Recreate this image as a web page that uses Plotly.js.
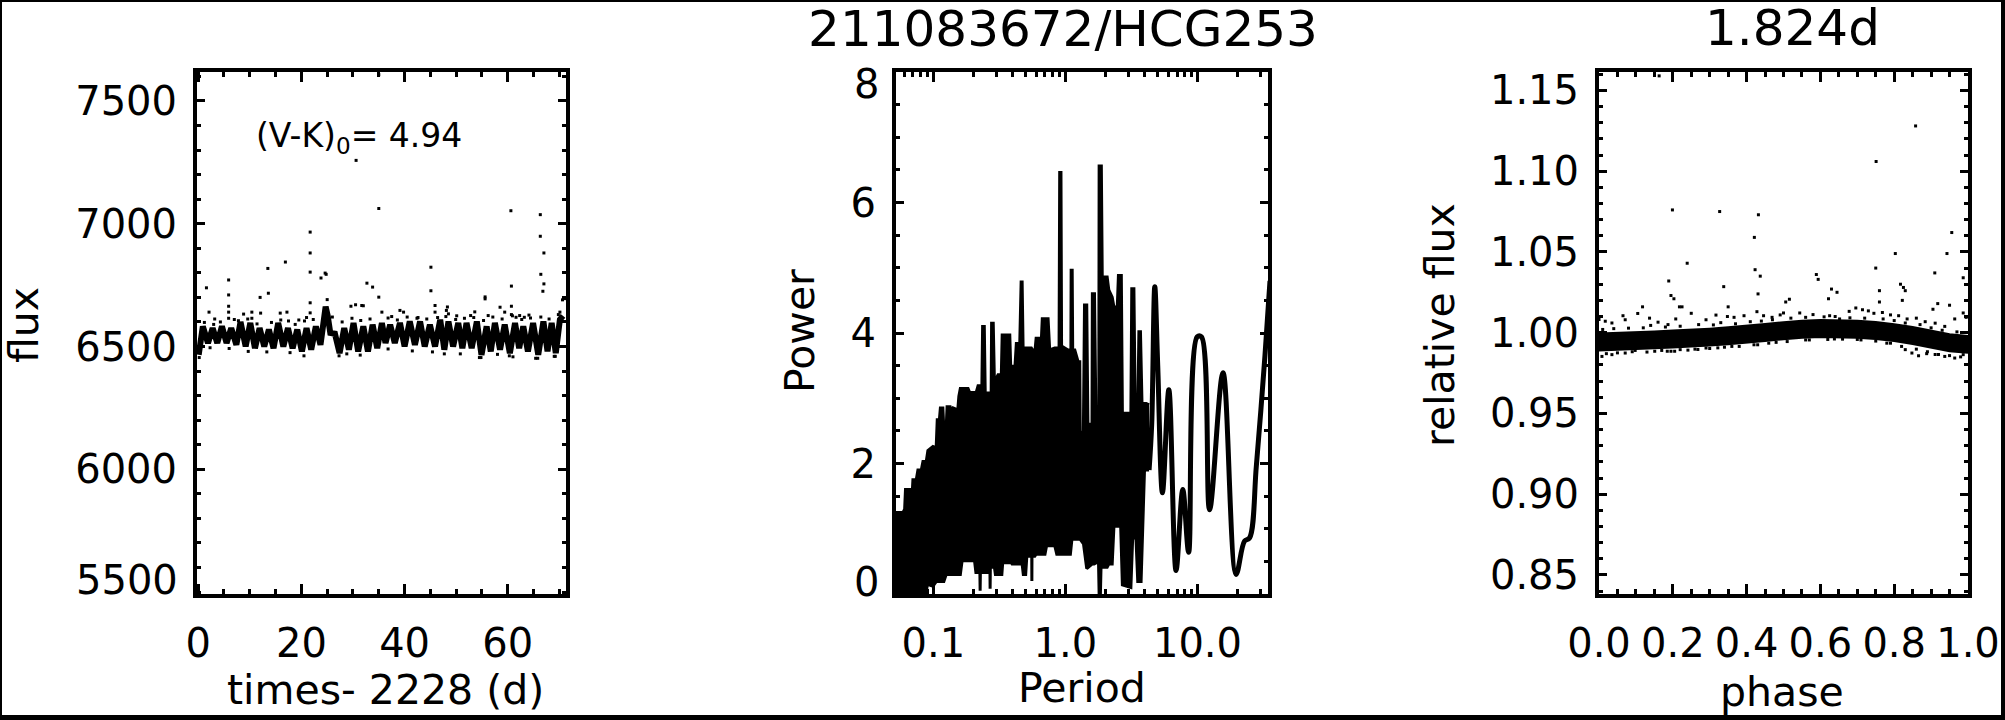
<!DOCTYPE html>
<html><head><meta charset="utf-8">
<script src="https://cdn.plot.ly/plotly-3.0.1.min.js"></script>
<style>
html,body{margin:0;padding:0;background:#fff;}
#wrap{position:relative;width:2005px;height:720px;overflow:hidden;background:#fff;}
#chart{position:absolute;left:0;top:0;width:2005px;height:720px;}
#frame{position:absolute;left:0;top:0;width:2005px;height:720px;box-sizing:border-box;border-top:2px solid #000;border-left:2px solid #000;border-right:4px solid #000;border-bottom:5px solid #000;pointer-events:none;}
</style></head><body>
<div id="wrap"><div id="chart"></div><div id="frame"></div></div>
<script>
// ---------- Panel 1: light curve (flux vs time-2228) ----------
const lcTime = [0.1,0.5,0.9,1.9,2.8,3.7,4.6,5.5,6.4,7.4,8.2,9.2,10.1,11.0,11.9,12.8,13.7,14.6,15.5,16.5,17.4,18.3,19.2,20.1,21.0,21.9,22.8,23.7,24.3,24.7,25.1,25.6,26.5,27.4,28.3,29.2,30.1,31.0,32.0,32.9,33.8,34.7,35.6,36.3,37.2,38.1,39.1,40.0,41.0,42.0,43.0,43.9,44.9,45.9,46.9,47.7,48.5,49.4,50.4,51.2,52.0,53.0,54.0,54.9,55.9,56.7,57.5,58.5,59.4,60.4,61.4,62.2,63.0,63.9,64.9,65.9,66.9,67.7,68.5,69.3,70.1,70.7];
const lcFlux = [6466,6520,6582,6514,6575,6514,6582,6514,6575,6507,6600,6500,6596,6493,6575,6500,6569,6493,6596,6500,6575,6493,6569,6480,6575,6487,6582,6507,6600,6662,6625,6555,6552,6473,6575,6487,6596,6480,6582,6480,6589,6493,6596,6514,6589,6514,6596,6500,6602,6507,6602,6500,6589,6500,6609,6487,6602,6500,6596,6493,6596,6493,6602,6466,6582,6480,6596,6487,6589,6473,6596,6493,6582,6480,6596,6466,6602,6480,6596,6473,6610,6625];
const lcOutTime = [35.0,30.6,35.0,60.6,66.3,66.3,21.7,21.7,67.0,16.9,13.5,45.1,21.7,24.8,23.8,24.6,5.9,66.4,1.6,32.7,33.8,60.7,67.0,66.8,13.6,45.1,35.0,5.9,12.0,55.6,55.6,21.7,30.5,29.6,32.0,31.7,25.0,70.6,71.0,45.9,60.7,48.3,5.9,5.9,5.9,2.1,10.4,10.4,8.8,12.1,15.9,17.2,17.5,21.0,21.7,39.1,39.8,45.9,48.1,48.5,53.6,52.8,56.2,58.5,59.4,60.7,61.6,62.3,63.2,70.1,35.6,54.8,65.8,69.2,60.3,47.7,27.3,0.2,3.2,7.0,19.5,26.0,37.5,42.6,50.1,64.1,
  1.2,3.0,4.3,7.8,9.6,11.4,14.2,16.0,18.8,20.6,22.3,27.9,29.8,31.5,33.3,36.8,38.6,40.5,42.4,44.3,46.4,48.0,49.9,51.6,53.4,55.3,57.1,58.9,60.9,62.7,64.4,66.4,68.0,69.8,
  2.3,6.0,9.7,13.3,17.8,20.5,28.8,31.4,36.8,41.5,45.4,50.8,54.5,58.0,61.0,65.4,69.0];
const lcOutFlux = [7607,7258,7062,7053,7037,6949,6966,6881,6881,6844,6818,6823,6803,6794,6779,6799,6771,6794,6739,6758,6742,6746,6755,6725,6717,6727,6701,6710,6700,6702,6694,6678,6670,6664,6666,6667,6691,6690,6695,6667,6664,6661,6664,6640,6615,6640,6640,6615,6632,6636,6636,6640,6604,6618,6637,6647,6640,6640,6647,6633,6641,6626,6626,6660,6640,6630,6619,6626,6619,6640,6640,6455,6452,6460,6462,6470,6462,6455,6612,6610,6608,6620,6622,6618,6625,6628,
  6598,6590,6600,6605,6612,6592,6598,6608,6590,6604,6610,6600,6615,6606,6612,6616,6608,6620,6615,6612,6618,6622,6610,6615,6618,6606,6620,6612,6625,6610,6616,6620,6612,6630,
  6495,6492,6480,6478,6475,6462,6470,6465,6490,6482,6478,6470,6455,6468,6458,6452,6460];

// ---------- Panel 2: periodogram (Power vs Period) ----------
const pgUpPeriod = [0.0503,0.0523,0.0589,0.0606,0.0615,0.0661,0.0670,0.0690,0.0700,0.0742,0.0764,0.0810,0.0834,0.0883,0.0909,0.0993,0.1050,0.1070,0.1110,0.1130,0.1180,0.1200,0.1250,0.1270,0.1340,0.1370,0.1410,0.1530,0.1560,0.1600,0.1830,0.1880,0.2110,0.2180,0.2330,0.2360,0.2430,0.2470,0.2740,0.2760,0.2840,0.2900,0.3090,0.3270,0.3320,0.3790,0.3850,0.4150,0.4250,0.4510,0.4620,0.4700,0.4780,0.5520,0.5860,0.6000,0.6580,0.6680,0.7390,0.7600,0.8300,0.8950,0.9050,0.9250,0.9350,1.047,1.100,1.105,1.125,1.135,1.177,1.247,1.284,1.295,1.368,1.395,1.450,1.480,1.590,1.600,1.660,1.700,1.790,1.800,1.870,1.900,2.070,2.130,2.260,2.330,2.470,2.520,2.650,2.700,3.130,3.180,3.300,3.380,3.530,3.600,3.700,3.800,4.090,4.300];
const pgUpPower = [1.20,1.25,1.25,1.30,1.60,1.60,1.50,1.50,1.75,1.75,1.90,1.90,2.03,2.03,2.20,2.26,2.24,2.67,2.67,2.85,2.85,2.54,2.54,2.87,2.87,2.80,2.85,2.82,3.03,3.15,3.15,3.09,3.09,3.19,3.19,4.10,4.10,3.08,3.08,4.15,4.15,3.25,3.36,3.36,3.97,3.97,3.49,3.49,3.84,3.84,4.78,4.78,3.77,3.77,3.69,3.92,3.92,4.22,4.22,3.74,3.77,3.77,6.46,6.46,3.80,3.74,3.74,4.96,4.96,3.74,3.74,3.56,3.56,2.41,2.50,4.43,4.43,2.60,2.60,4.60,4.60,2.80,2.80,6.56,6.56,4.86,4.86,4.66,4.55,4.40,4.40,4.88,4.88,2.77,2.77,4.68,4.68,2.75,2.75,4.02,4.02,2.92,2.92,2.90];
const pgLowPeriod = [0.0503,0.0810,0.0820,0.0834,0.0850,0.0870,0.0880,0.0900,0.0993,0.1050,0.1200,0.1250,0.1600,0.1650,0.2050,0.2100,0.2250,0.2260,0.2270,0.2550,0.2600,0.2680,0.2690,0.2700,0.2900,0.2950,0.3300,0.3350,0.3900,0.3950,0.4700,0.4800,0.5000,0.5100,0.5560,0.5570,0.5580,0.5860,0.6000,0.7000,0.7200,0.8300,0.8600,1.0900,1.1200,1.2900,1.3700,1.4500,1.5900,1.6500,1.7800,1.8000,1.8400,1.8600,2.0700,2.1300,2.2600,2.3300,2.6200,2.7000,3.1300,3.2300,3.4200,3.5300,3.7400,3.9700,4.3000];
const pgLowPower = [0.00,0.00,0.15,0.00,0.15,0.15,0.00,0.15,0.12,0.19,0.19,0.30,0.30,0.51,0.51,0.33,0.33,0.05,0.33,0.33,0.41,0.41,0.08,0.41,0.41,0.30,0.30,0.48,0.48,0.46,0.46,0.30,0.30,0.58,0.58,0.20,0.58,0.58,0.61,0.61,0.74,0.74,0.61,0.61,0.84,0.84,0.77,0.39,0.46,0.46,0.50,0.00,0.00,0.41,0.41,0.46,0.46,1.04,1.04,0.14,0.10,0.86,0.86,0.19,0.19,1.90,1.90];
const pgSmoothPeriod = [4.30,4.50,4.75,5.00,5.43,6.07,6.88,7.74,8.57,9.94,10.72,12.35,15.60,19.60,22.70,24.80,27.90,32.40,35.40];
const pgSmoothPower = [1.90,2.60,4.71,3.50,1.55,3.13,0.36,1.60,0.64,3.94,3.94,1.29,3.39,0.30,0.81,0.86,1.96,3.64,4.80];
const pgTickVals = [0.1,1,10];
const pgTickText = ['0.1','1.0','10.0'];
const pgMinorVals = [0.06,0.07,0.08,0.09,0.2,0.3,0.4,0.5,0.6,0.7,0.8,0.9,2,3,4,5,6,7,8,9,20,30];

// ---------- Panel 3: phased light curve (relative flux vs phase) ----------
const phGrid = [0.00,0.05,0.10,0.15,0.20,0.25,0.30,0.35,0.40,0.45,0.50,0.55,0.60,0.65,0.70,0.75,0.80,0.85,0.90,0.95,1.00];
const phBandTop = [0.9995,0.9998,1.0003,1.0008,1.0013,1.0018,1.0025,1.0033,1.0042,1.0053,1.0065,1.0074,1.0078,1.0078,1.0074,1.0066,1.0053,1.0035,1.0012,0.9990,0.9980];
const phBandBot = [0.9890,0.9893,0.9898,0.9903,0.9908,0.9913,0.9920,0.9928,0.9937,0.9948,0.9960,0.9969,0.9973,0.9973,0.9969,0.9961,0.9948,0.9930,0.9907,0.9885,0.9875];
const phOutPhase = [0.163,0.858,0.751,0.199,0.327,0.432,0.421,0.956,0.943,0.803,0.239,0.189,0.423,0.437,0.750,0.589,0.594,0.987,0.338,0.910,0.817,0.431,0.630,0.645,0.760,0.195,0.203,0.825,0.830,0.822,0.118,0.350,0.506,0.516,0.760,0.622,0.905,0.918,0.950,0.218,0.225,
  0.000,0.017,0.035,0.065,0.071,0.105,0.137,0.160,0.187,0.208,0.250,0.290,0.317,0.348,0.366,0.393,0.428,0.446,0.469,0.491,0.500,0.544,0.580,0.625,0.652,0.678,0.696,0.714,0.730,0.745,0.768,0.790,0.812,0.835,0.860,0.884,0.911,0.937,0.964,0.987,0.995,
  0.008,0.035,0.071,0.098,0.151,0.185,0.195,0.205,0.241,0.268,0.300,0.322,0.360,0.420,0.480,0.560,0.638,0.700,0.780,0.830,0.848,0.866,0.888,0.911,0.937,0.964,0.987,
  0.01,0.04,0.08,0.12,0.14,0.18,0.22,0.27,0.31,0.33,0.37,0.41,0.44,0.47,0.52,0.56,0.61,0.64,0.68,0.72,0.77,0.80,0.83,0.87,0.90,0.93,0.97,
  0.02,0.05,0.09,0.13,0.17,0.22,0.26,0.29,0.34,0.38,0.43,0.46,0.51,0.57,0.62,0.66,0.71,0.75,0.79,0.82,0.86,0.89,0.92,0.95,0.98];
const phOutFlux = [1.159,1.128,1.106,1.076,1.075,1.073,1.059,1.062,1.049,1.049,1.043,1.032,1.039,1.035,1.040,1.036,1.033,1.034,1.0285,1.037,1.030,1.024,1.027,1.025,1.026,1.023,1.021,1.028,1.026,1.020,1.016,1.016,1.019,1.0207,1.019,1.021,1.0145,1.018,1.017,1.016,1.016,
  1.0081,1.0071,1.0060,1.0105,1.0080,1.0119,1.0090,1.0065,1.0050,1.0085,1.0120,1.0080,1.0109,1.0100,1.0095,1.0105,1.0130,1.0105,1.0095,1.0110,1.0122,1.0122,1.0112,1.0105,1.0085,1.0132,1.0153,1.0142,1.0135,1.0120,1.0125,1.0110,1.0105,1.0085,1.0090,1.0068,1.0059,1.0039,1.0085,1.0122,1.0095,
  0.9853,0.9864,0.9874,0.9890,0.9885,0.9885,0.9885,0.9885,0.9892,0.9896,0.9902,0.9906,0.9915,0.9925,0.9940,0.9955,0.9961,0.9958,0.9935,0.9895,0.9874,0.9857,0.9870,0.9865,0.9853,0.9843,0.9864,
  1.0020,1.0025,1.0028,1.0030,1.0045,1.0035,1.0040,1.0050,1.0048,1.0062,1.0055,1.0068,1.0072,1.0080,1.0090,1.0095,1.0098,1.0100,1.0092,1.0090,1.0085,1.0075,1.0060,1.0050,1.0030,1.0015,1.0005,
  0.9870,0.9875,0.9882,0.9880,0.9890,0.9895,0.9898,0.9905,0.9910,0.9915,0.9925,0.9935,0.9945,0.9955,0.9958,0.9960,0.9955,0.9948,0.9935,0.9915,0.9898,0.9882,0.9865,0.9858,0.9850];

// ---------- Text ----------
const mainTitle = '211083672/HCG253';
const periodTitle = '1.824d';
const colourLabel = '(V-K)<sub>0</sub>= 4.94';
const lcYTickVals = [6000,6500,7000,7500];
const pgYTickVals = [2,4,6];

const FONT = 'DejaVu Sans, Verdana, sans-serif';
const W = 2005, H = 720;
const px = v => v / W;
const py = v => 1 - v / H;

function axis(extra, isX) {
  return Object.assign({
    showline: true, linewidth: 4, linecolor: '#000', mirror: 'allticks',
    ticks: 'inside', ticklen: isX ? 10 : 8, tickwidth: 3, tickcolor: '#000',
    showgrid: false, zeroline: false, fixedrange: true,
    tickfont: {family: FONT, size: 40, color: '#000'},
    ticklabelstandoff: isX ? 11 : 8
  }, extra);
}
function minor(extra, isX) {
  return Object.assign({ticks: 'inside', ticklen: isX ? 5 : 4, tickwidth: 3, tickcolor: '#000', showgrid: false}, extra);
}
function label(text, xPix, yPix, opts) {
  return Object.assign({text: text, xref: 'paper', yref: 'paper', x: px(xPix), y: py(yPix), xanchor: 'center', yanchor: 'middle', showarrow: false, font: {family: FONT, size: 41, color: '#000'}}, opts || {});
}

const data = [
  {x: lcTime, y: lcFlux, xaxis: 'x', yaxis: 'y', mode: 'lines', line: {color: '#000', width: 6}, hoverinfo: 'skip'},
  {x: lcOutTime, y: lcOutFlux, xaxis: 'x', yaxis: 'y', mode: 'markers', marker: {color: '#000', size: 3, symbol: 'square'}, hoverinfo: 'skip'},

  {x: pgLowPeriod, y: pgLowPower, xaxis: 'x2', yaxis: 'y2', mode: 'lines', line: {color: '#000', width: 3}, hoverinfo: 'skip'},
  {x: pgUpPeriod, y: pgUpPower, xaxis: 'x2', yaxis: 'y2', mode: 'lines', fill: 'tonexty', fillcolor: '#000', line: {color: '#000', width: 3}, hoverinfo: 'skip'},
  {x: pgSmoothPeriod, y: pgSmoothPower, xaxis: 'x2', yaxis: 'y2', mode: 'lines', line: {color: '#000', width: 5, shape: 'spline', smoothing: 1}, hoverinfo: 'skip'},

  {x: phGrid, y: phBandBot, xaxis: 'x3', yaxis: 'y3', mode: 'lines', line: {color: '#000', width: 2}, hoverinfo: 'skip'},
  {x: phGrid, y: phBandTop, xaxis: 'x3', yaxis: 'y3', mode: 'lines', fill: 'tonexty', fillcolor: '#000', line: {color: '#000', width: 2}, hoverinfo: 'skip'},
  {x: phOutPhase, y: phOutFlux, xaxis: 'x3', yaxis: 'y3', mode: 'markers', marker: {color: '#000', size: 3, symbol: 'square'}, hoverinfo: 'skip'}
];

const yDom = [0.175, 0.9];
const layout = {
  width: W, height: H, showlegend: false,
  margin: {l: 0, r: 0, t: 0, b: 0},
  paper_bgcolor: '#fff', plot_bgcolor: '#fff',
  font: {family: FONT, color: '#000'},
  title: {text: mainTitle, font: {family: FONT, size: 50, color: '#000'}, xref: 'paper', yref: 'paper', x: px(1063), xanchor: 'center', y: py(28), yanchor: 'middle'},
  xaxis: axis({domain: [px(197), px(566)], anchor: 'y', range: [-0.23, 71.28], tick0: 0, dtick: 20, minor: minor({dtick: 5}, true)}, true),
  yaxis: axis({domain: yDom, anchor: 'x', range: [5492, 7618], tickmode: 'array', tickvals: lcYTickVals, minor: minor({tick0: 5500, dtick: 100}, false)}, false),
  xaxis2: axis({domain: [px(896), px(1268)], anchor: 'y2', type: 'log', range: [-1.283, 1.534], tickmode: 'array', tickvals: pgTickVals, ticktext: pgTickText, minor: minor({tickmode: 'array', tickvals: pgMinorVals}, true)}, true),
  yaxis2: axis({domain: yDom, anchor: 'x2', range: [0, 8], tickmode: 'array', tickvals: pgYTickVals, minor: minor({tick0: 0, dtick: 0.5}, false)}, false),
  xaxis3: axis({domain: [px(1599), px(1968)], anchor: 'y3', range: [0, 1], tick0: 0, dtick: 0.2, tickformat: '.1f', minor: minor({dtick: 0.05}, true)}, true),
  yaxis3: axis({domain: yDom, anchor: 'x3', range: [0.8382, 1.1614], tick0: 0.85, dtick: 0.05, tickformat: '.2f', minor: minor({dtick: 0.01}, false)}, false),
  annotations: [
    label(periodTitle, 1792, 28, {font: {family: FONT, size: 50, color: '#000'}}),
    label(colourLabel, 254, 137, {xanchor: 'left', font: {family: FONT, size: 33, color: '#000'}}),
    // end-of-axis tick labels, kept inside the axis span as in the original
    label('5500', 180, 580, {xanchor: 'right', font: {family: FONT, size: 40, color: '#000'}}),
    label('0', 881, 582, {xanchor: 'right', font: {family: FONT, size: 40, color: '#000'}}),
    label('8', 881, 84, {xanchor: 'right', font: {family: FONT, size: 40, color: '#000'}}),
    // axis titles
    label('flux', 24, 325, {textangle: -90}),
    label('Power', 800, 331, {textangle: -90}),
    label('relative flux', 1440, 325, {textangle: -90}),
    label('times- 2228 (d)', 385, 690),
    label('Period', 1082, 688),
    label('phase', 1782, 692)
  ]
};

Plotly.newPlot('chart', data, layout, {displayModeBar: false, staticPlot: true});
</script>
</body></html>
